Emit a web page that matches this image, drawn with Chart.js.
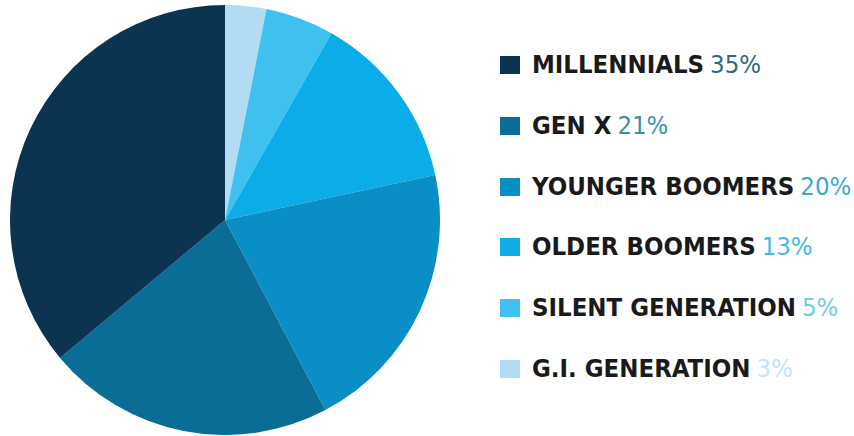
<!DOCTYPE html>
<html>
<head>
<meta charset="utf-8">
<script src="https://cdn.jsdelivr.net/npm/chart.js@4"></script>
<style>
  html, body { margin: 0; padding: 0; background: #fff; }
  #wrap { position: relative; width: 854px; height: 436px; overflow: hidden; }
  #pie { position: absolute; left: 10px; top: 5px; width: 430px; height: 430px; }
  #legend { position: absolute; left: 500px; top: 49px; margin: 0; padding: 0; list-style: none;
    font-family: "DejaVu Sans Condensed", sans-serif; font-weight: bold;
    font-size: 25.5px; color: #1a1a1a; }
  #legend li { height: 60.8px; display: flex; align-items: flex-start; white-space: nowrap; }
  #legend .sw { width: 20px; height: 18px; margin: 7px 12px 0 0; flex: none; }
  #legend .pct { font-weight: normal; margin-left: 6px; }
</style>
</head>
<body>
<div id="wrap">
  <div id="pie"><canvas id="c"></canvas></div>
  <ul id="legend"></ul>
</div>
<script>
// legend order (top to bottom)
const categories = ["MILLENNIALS", "GEN X", "YOUNGER BOOMERS", "OLDER BOOMERS", "SILENT GENERATION", "G.I. GENERATION"];
const shares = [35, 21, 20, 13, 5, 3];
const sliceColors = ["#0b3450", "#0a6d95", "#0a8ec6", "#0aade8", "#3ec1ef", "#b2dcf3"];
const pctColors = ["#2b6a80", "#3b90b0", "#3ca8d2", "#44b9e2", "#72c9e9", "#c2e4f4"];

// pie goes clockwise from 12 o'clock starting with the smallest group
const order = categories.map((_, i) => i).reverse();

new Chart(document.getElementById("c"), {
  type: "pie",
  data: {
    labels: order.map(i => categories[i]),
    datasets: [{
      data: order.map(i => shares[i]),
      backgroundColor: order.map(i => sliceColors[i]),
      borderWidth: 0
    }]
  },
  options: {
    responsive: true,
    maintainAspectRatio: false,
    animation: false,
    layout: { padding: 0 },
    plugins: { legend: { display: false }, tooltip: { enabled: false } }
  }
});

const ul = document.getElementById("legend");
categories.forEach((name, i) => {
  const li = document.createElement("li");
  li.innerHTML = '<span class="sw" style="background:' + sliceColors[i] + '"></span>' +
    '<span>' + name + '</span><span class="pct" style="color:' + pctColors[i] + '">' + shares[i] + '%</span>';
  ul.appendChild(li);
});
</script>
</body>
</html>
